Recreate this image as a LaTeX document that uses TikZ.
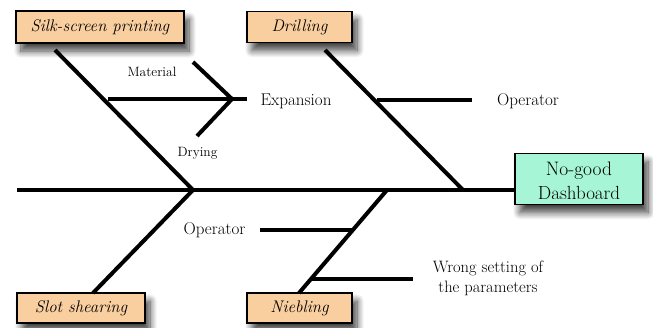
\documentclass[tikz,border=0pt]{standalone}
\usetikzlibrary{shadows.blur}
\definecolor{peach}{HTML}{F9CFA0}
\definecolor{mint}{HTML}{A6F5D6}
\begin{document}
\begin{tikzpicture}[x=1pt,y=-1pt,
  bone/.style={line width=4pt},
  boxshadow/.style={blur shadow={shadow xshift=5pt, shadow yshift=-8pt, shadow blur steps=10, shadow blur radius=7pt, shadow opacity=75}},
  causebox/.style={draw=black, line width=1.3pt, fill=peach, inner sep=0pt, boxshadow,
    font=\fontsize{16.8}{19}\selectfont\itshape},
  effectbox/.style={draw=black, line width=1.3pt, fill=mint, inner sep=0pt, boxshadow},
  lbl/.style={font=\fontsize{17}{19}\selectfont, inner sep=0pt},
  small/.style={font=\fontsize{13.5}{15}\selectfont, inner sep=0pt}]
\useasboundingbox (0,0) rectangle (653,327);
% boxes
\node[causebox, minimum width=168pt, minimum height=32pt] (silk) at (100,27) {Silk-screen printing};
\node[causebox, minimum width=105pt, minimum height=31pt] (drill) at (299.5,27) {Drilling};
\node[causebox, minimum width=128pt, minimum height=30pt] (slot) at (81,308) {Slot shearing};
\node[causebox, minimum width=105pt, minimum height=30pt] (nieb) at (299.5,308) {Niebling};
\node[effectbox, minimum width=128pt, minimum height=51pt] (dash) at (579,179) {};
\begin{scope}
\clip (515,150) rectangle (643,198.5);
\node[lbl, anchor=base, font=\fontsize{19.5}{22}\selectfont] (dashtxt1) at (579,175) {No-good};
\node[lbl, anchor=base, font=\fontsize{19}{22}\selectfont] (dashtxt2) at (579,199.5) {Dashboard};
\end{scope}
% coordinates
\coordinate (tail) at (17,190);
\coordinate (head) at (dash.west |- tail);
\coordinate (j1) at (193,190);
\coordinate (j2) at (463,190);
\coordinate (j3) at (387,190);
\coordinate (silktop) at (55,50);
\coordinate (drilltop) at (325,50);
\coordinate (slotbot) at (93,293);
\coordinate (niebbot) at (299,293);
\coordinate (sb1) at (108,99);
\coordinate (sbj) at (232,99);
\coordinate (sbend) at (247,99);
\coordinate (mat) at (193,62);
\coordinate (dry) at (197,136);
\coordinate (op1a) at (377,100);
\coordinate (op1b) at (472,100);
\coordinate (op2a) at (260,230);
\coordinate (op2b) at (353,230);
\coordinate (wa) at (312,279);
\coordinate (wb) at (413,279);
% spine and bones
\draw[bone] (tail) -- (head);
\draw[bone] (silktop) -- (j1);
\draw[bone] (slotbot) -- (j1);
\draw[bone] (drilltop) -- (j2);
\draw[bone] (niebbot) -- (j3);
% sub-branches
\draw[bone] (sb1) -- (sbend);
\draw[bone] (mat) -- (sbj) -- (dry);
\draw[bone] (op1a) -- (op1b);
\draw[bone] (op2a) -- (op2b);
\draw[bone] (wa) -- (wb);
% labels
\node[small] (lmat) at (152,72) {Material};
\node[small] (ldry) at (197.5,153) {Drying};
\node[lbl] (lexp) at (296,101) {Expansion};
\node[lbl] (lop1) at (528,101) {Operator};
\node[lbl] (lop2) at (214.5,230) {Operator};
\node[lbl, align=center, font=\fontsize{16.5}{20}\selectfont] (lwrong) at (488,278) {Wrong setting of\\the parameters};
\end{tikzpicture}
\end{document}
